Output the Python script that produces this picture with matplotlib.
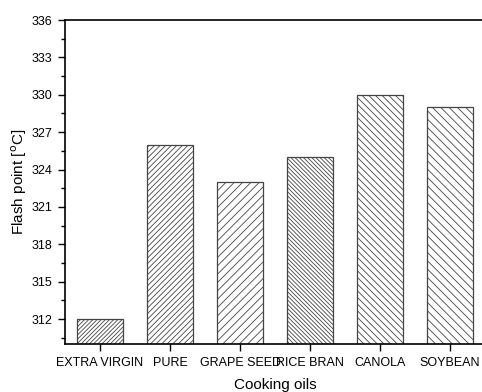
import numpy as np
import matplotlib
matplotlib.use('Agg')
import matplotlib.pyplot as plt
from matplotlib.ticker import MultipleLocator

oils = ['EXTRA VIRGIN', 'PURE', 'GRAPE SEED', 'RICE BRAN', 'CANOLA', 'SOYBEAN']
flash_point = [312, 326, 323, 325, 330, 329]
hatches = ['/' * 8, '/' * 6, '/' * 4, '\\' * 8, '\\' * 5, '\\' * 4]

plt.rcParams['font.family'] = ['Liberation Sans', 'DejaVu Sans']
plt.rcParams['hatch.linewidth'] = 0.6
plt.rcParams['hatch.color'] = '#555555'

fig = plt.figure(figsize=(4.82, 3.92), dpi=100)
ax = fig.add_axes([65/482, 48/392, 420/482, 324/392])

x = np.arange(len(oils))
bars = ax.bar(x, flash_point, width=0.67, bottom=0, color='white',
              edgecolor='#444444', linewidth=0.9)
for b, h in zip(bars, hatches):
    b.set_hatch(h)

ax.set_xlim(-0.5, 5.5)
ax.set_ylim(310, 336)
ax.set_xticks(x)
ax.set_xticklabels(oils)
ax.yaxis.set_major_locator(MultipleLocator(3))
ax.yaxis.set_minor_locator(MultipleLocator(1.5))
ax.tick_params(axis='both', direction='out', labelsize=9, width=1, length=5, pad=4)
ax.tick_params(axis='y', which='minor', direction='out', length=3, width=1)
ax.tick_params(axis='x', pad=4)
for s in ['left', 'bottom', 'top', 'right']:
    ax.spines[s].set_linewidth(1.2)

ax.set_xlabel('Cooking oils', fontsize=11, labelpad=7)
ax.set_ylabel(r'Flash point [$^{\rm o}$C]', fontsize=11, labelpad=2)

fig.savefig('out.png', dpi=100)
